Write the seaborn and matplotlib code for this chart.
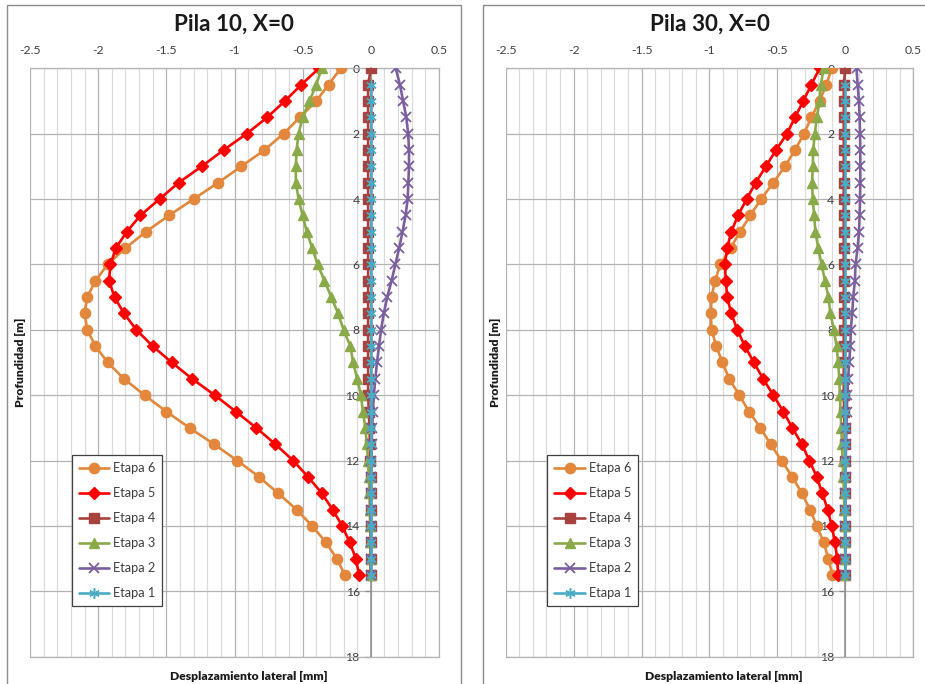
import numpy as np
import pandas as pd
import matplotlib
matplotlib.use("Agg")
import matplotlib.pyplot as plt
from matplotlib.patches import Rectangle
from matplotlib.ticker import MultipleLocator
import seaborn as sns

# Depth of each reading along the pile [m]
depth = [0.0, 0.5, 1.0, 1.5, 2.0, 2.5, 3.0, 3.5, 4.0, 4.5, 5.0, 5.5, 6.0, 6.5, 7.0, 7.5,
         8.0, 8.5, 9.0, 9.5, 10.0, 10.5, 11.0, 11.5, 12.0, 12.5, 13.0, 13.5, 14.0, 14.5, 15.0, 15.5]

stages = ["Etapa 6", "Etapa 5", "Etapa 4", "Etapa 3", "Etapa 2", "Etapa 1"]

# Pila 10 lateral displacement [mm]
p10_etapa6 = [-0.22, -0.31, -0.40, -0.52, -0.64, -0.78, -0.95, -1.12, -1.30, -1.48, -1.65, -1.80,
              -1.93, -2.02, -2.08, -2.10, -2.08, -2.02, -1.93, -1.81, -1.66, -1.50, -1.33, -1.15,
              -0.98, -0.82, -0.68, -0.545, -0.43, -0.33, -0.25, -0.19]
p10_etapa5 = [-0.38, -0.51, -0.63, -0.76, -0.91, -1.08, -1.24, -1.41, -1.55, -1.69, -1.79, -1.87,
              -1.91, -1.92, -1.88, -1.81, -1.72, -1.60, -1.46, -1.31, -1.145, -0.99, -0.84, -0.70,
              -0.57, -0.46, -0.36, -0.28, -0.21, -0.155, -0.11, -0.086]
p10_etapa4 = [0.0, -0.02, -0.02, -0.02, -0.02, -0.02, -0.02, -0.02, -0.02, -0.02, -0.02, -0.02,
              -0.02, -0.02, -0.02, -0.02, -0.02, -0.02, -0.02, -0.02, -0.02, -0.015, -0.01, -0.007,
              -0.004, 0.0, 0.0, 0.0, 0.0, 0.0, 0.0, 0.0]
p10_etapa3 = [-0.36, -0.40, -0.45, -0.50, -0.53, -0.545, -0.55, -0.55, -0.53, -0.50, -0.47, -0.43,
              -0.39, -0.34, -0.29, -0.24, -0.20, -0.15, -0.13, -0.10, -0.073, -0.058, -0.04, -0.03,
              -0.02, -0.015, -0.01, -0.008, -0.005, -0.003, -0.002, 0.0]
p10_etapa2 = [0.183, 0.213, 0.237, 0.26, 0.274, 0.28, 0.28, 0.275, 0.27, 0.255, 0.232, 0.208,
              0.18, 0.152, 0.12, 0.095, 0.075, 0.06, 0.045, 0.033, 0.022, 0.015, 0.01, 0.006,
              0.004, 0.002, 0.0, 0.0, 0.0, 0.0, 0.0, 0.0]
p10_etapa1 = [np.nan, 0.0, 0.0, 0.0, 0.0, 0.0, 0.0, 0.0, 0.0, 0.0, 0.0, 0.0,
              0.0, 0.0, 0.0, 0.0, 0.0, 0.0, 0.0, 0.0, 0.0, 0.0, 0.0, 0.0,
              0.0, 0.0, 0.0, 0.0, 0.0, 0.0, 0.0, 0.0]

# Pila 30 lateral displacement [mm]
p30_etapa6 = [-0.10, -0.14, -0.19, -0.25, -0.305, -0.37, -0.445, -0.53, -0.62, -0.70, -0.775, -0.845,
              -0.92, -0.96, -0.985, -0.99, -0.985, -0.95, -0.905, -0.855, -0.78, -0.71, -0.625, -0.55,
              -0.47, -0.39, -0.32, -0.26, -0.21, -0.16, -0.125, -0.095]
p30_etapa5 = [-0.19, -0.25, -0.31, -0.37, -0.43, -0.51, -0.585, -0.66, -0.727, -0.79, -0.84, -0.87,
              -0.887, -0.88, -0.87, -0.84, -0.795, -0.74, -0.673, -0.605, -0.53, -0.457, -0.39, -0.32,
              -0.265, -0.21, -0.17, -0.13, -0.10, -0.077, -0.06, -0.053]
p30_etapa4 = [0.0, -0.012, -0.012, -0.012, -0.012, -0.012, -0.012, -0.012, -0.012, -0.012, -0.012, -0.012,
              -0.012, -0.012, -0.012, -0.012, -0.012, -0.012, -0.012, -0.012, -0.012, -0.009, -0.006, -0.004,
              -0.002, 0.0, 0.0, 0.0, 0.0, 0.0, 0.0, 0.0]
p30_etapa3 = [-0.16, -0.18, -0.19, -0.21, -0.225, -0.237, -0.24, -0.245, -0.24, -0.23, -0.22, -0.20,
              -0.175, -0.15, -0.125, -0.11, -0.085, -0.065, -0.053, -0.045, -0.04, -0.035, -0.03, -0.025,
              -0.02, -0.015, -0.01, -0.008, -0.005, -0.003, -0.002, 0.0]
p30_etapa2 = [0.082, 0.09, 0.10, 0.105, 0.108, 0.11, 0.11, 0.11, 0.108, 0.105, 0.10, 0.09,
              0.075, 0.07, 0.058, 0.05, 0.04, 0.037, 0.028, 0.02, 0.015, 0.01, 0.008, 0.005,
              0.003, 0.002, 0.0, 0.0, 0.0, 0.0, 0.0, 0.0]
p30_etapa1 = [np.nan, 0.0, 0.0, 0.0, 0.0, 0.0, 0.0, 0.0, 0.0, 0.0, 0.0, 0.0,
              0.0, 0.0, 0.0, 0.0, 0.0, 0.0, 0.0, 0.0, 0.0, 0.0, 0.0, 0.0,
              0.0, 0.0, 0.0, 0.0, 0.0, 0.0, 0.0, 0.0]

x_ticks = [-2.5, -2.0, -1.5, -1.0, -0.5, 0.0, 0.5]
x_tick_labels = ["-2.5", "-2", "-1.5", "-1", "-0.5", "0", "0.5"]
y_ticks = [0, 2, 4, 6, 8, 10, 12, 14, 16, 18]
y_tick_labels = ["0", "2", "4", "6", "8", "10", "12", "14", "16", "18"]

panels = [
    ("Pila 10, X=0", [p10_etapa6, p10_etapa5, p10_etapa4, p10_etapa3, p10_etapa2, p10_etapa1]),
    ("Pila 30, X=0", [p30_etapa6, p30_etapa5, p30_etapa4, p30_etapa3, p30_etapa2, p30_etapa1]),
]

# Line style of each stage
styles = {
    "Etapa 6": dict(color="#E2873B", marker="o", markersize=7.4),
    "Etapa 5": dict(color="#FF0000", marker="D", markersize=5.8),
    "Etapa 4": dict(color="#A8423F", marker="s", markersize=7.2),
    "Etapa 3": dict(color="#8AAA4A", marker="^", markersize=7.4),
    "Etapa 2": dict(color="#7A5EA0", marker="x", markersize=7.4, markeredgewidth=1.3),
    "Etapa 1": dict(color="#4AABC5", marker=(6, 2, 0), markersize=7.4, markeredgewidth=1.1),
}

sns.set_theme(style="white")
plt.rcParams["font.family"] = ["Lato", "DejaVu Sans"]

W, H = 925, 684
fig = plt.figure(figsize=(W / 100, H / 100), dpi=100)

axes_px = [(30, 439), (505.7, 913.3)]
frames_px = [(7, 461), (483, 940)]
top_px, bot_px = 68.3, 656.7

for (title, series), (x0, x1), (f0, f1) in zip(panels, axes_px, frames_px):
    # chart frame
    fig.add_artist(Rectangle((f0 / W, -0.02), (f1 - f0) / W, 1 - 5 / H + 0.02,
                             transform=fig.transFigure, fill=False,
                             edgecolor="#8C8C8C", linewidth=1.0, zorder=0))
    ax = fig.add_axes([x0 / W, 1 - bot_px / H, (x1 - x0) / W, (bot_px - top_px) / H])

    df = pd.DataFrame({"Profundidad": depth})
    for name, vals in zip(stages, series):
        df[name] = vals
    long = df.melt(id_vars="Profundidad", var_name="Etapa", value_name="Desplazamiento")

    for name in stages:
        st = styles[name]
        sub = long[long["Etapa"] == name].dropna()
        sns.lineplot(data=sub, x="Desplazamiento", y="Profundidad", ax=ax,
                     sort=False, estimator=None, orient="y", label=name,
                     color=st["color"], marker=st["marker"], markersize=st["markersize"],
                     markeredgewidth=st.get("markeredgewidth", 1.0),
                     markeredgecolor=st["color"], linewidth=1.9, zorder=3)

    ax.set_xlim(-2.5, 0.5)
    ax.set_ylim(18, 0)
    ax.set_xticks(x_ticks)
    ax.set_xticklabels(x_tick_labels)
    ax.set_yticks(y_ticks)
    ax.set_yticklabels(y_tick_labels)
    ax.xaxis.set_minor_locator(MultipleLocator(0.1))
    ax.xaxis.tick_top()
    ax.set_xlabel("")
    ax.set_ylabel("")

    ax.grid(True, which="major", color="#B3B3B3", linewidth=0.9)
    ax.grid(True, which="minor", axis="x", color="#DCDCDC", linewidth=0.9)
    ax.set_axisbelow(True)

    ax.spines["left"].set_position(("data", 0))
    ax.spines["left"].set_color("#8C8C8C")
    ax.spines["left"].set_linewidth(1.1)
    ax.spines["left"].set_zorder(2.5)
    for s in ["top", "bottom", "right"]:
        ax.spines[s].set_color("#B3B3B3")
        ax.spines[s].set_linewidth(0.9)

    ax.tick_params(axis="x", which="both", length=0, pad=9, labelsize=8.8, colors="#404040")
    ax.tick_params(axis="y", which="major", length=4, width=0.9, color="#8C8C8C",
                   pad=4, labelsize=8.8, labelcolor="#404040", left=True)
    for lab in ax.get_yticklabels():
        lab.set_zorder(5)

    ax.text(0.5, 1 + 44 / (bot_px - top_px), title, transform=ax.transAxes,
            ha="center", va="center", fontsize=16.2, fontweight="bold", color="#1A1A1A")
    ax.text(0.536, -19.5 / (bot_px - top_px), "Desplazamiento lateral [mm]",
            transform=ax.transAxes, ha="center", va="center", fontsize=8.7,
            fontweight="heavy", color="#1A1A1A")
    ax.text(-10 / (x1 - x0), 0.5, "Profundidad [m]", transform=ax.transAxes,
            rotation=90, ha="center", va="center", fontsize=8.7,
            fontweight="heavy", color="#1A1A1A")

    leg = ax.legend(loc="upper left",
                    bbox_to_anchor=(41.5 / (x1 - x0), 1 - (455 - top_px) / (bot_px - top_px)),
                    borderaxespad=0, fontsize=9.2, frameon=True, fancybox=False,
                    handlelength=2.4, handletextpad=0.3, labelspacing=1.02,
                    borderpad=0.55, framealpha=1)
    leg.get_frame().set_edgecolor("#404040")
    leg.get_frame().set_linewidth(0.9)
    for t in leg.get_texts():
        t.set_color("#404040")
    leg.set_zorder(6)

fig.savefig("out.png", dpi=100)
